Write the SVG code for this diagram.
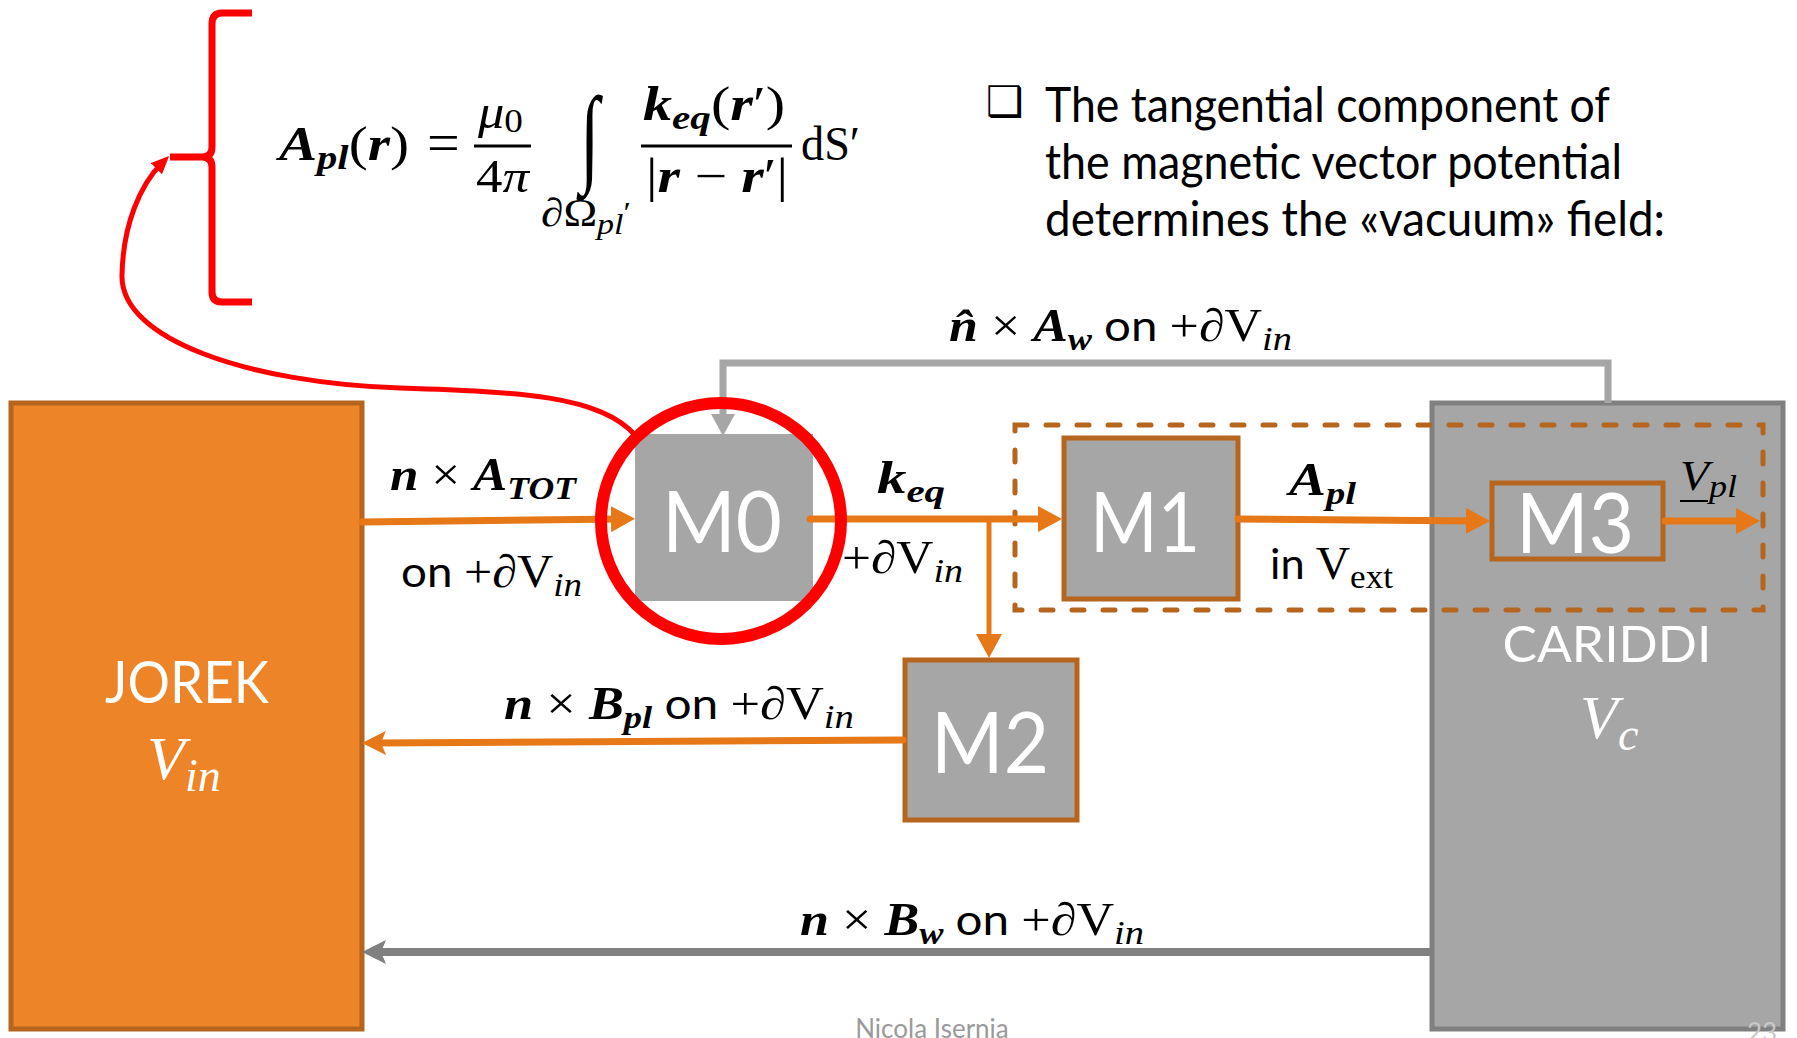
<svg xmlns="http://www.w3.org/2000/svg" width="1797" height="1038" viewBox="0 0 1797 1038">
<style>
.m{font-family:"Liberation Serif","DejaVu Serif",serif;fill:#000}
.bi{font-weight:bold;font-style:italic}
.it{font-style:italic}
.s{font-family:Lato,"Liberation Sans",sans-serif;fill:#000}
.box{font-family:Lato,"Liberation Sans",sans-serif;fill:#fff;text-anchor:middle}
.oline{stroke:#E67817;stroke-width:7;fill:none;stroke-linecap:round}
.gbox{fill:#A6A6A6}
.obox{fill:#A6A6A6;stroke:#B5651D;stroke-width:5}
</style>
<defs>
<marker id="ao" markerUnits="userSpaceOnUse" viewBox="0 0 24 26" markerWidth="24" markerHeight="26" refX="12" refY="13" orient="auto"><path d="M0,0 L24,13 L0,26 z" fill="#E67817"/></marker>
<marker id="ao2" markerUnits="userSpaceOnUse" viewBox="0 0 24 24" markerWidth="24" markerHeight="24" refX="12" refY="12" orient="auto"><path d="M0,0 L24,12 L0,24 L5,12 z" fill="#E67817"/></marker>
<marker id="ag" markerUnits="userSpaceOnUse" viewBox="0 0 24 24" markerWidth="24" markerHeight="24" refX="12" refY="12" orient="auto"><path d="M0,0 L24,12 L0,24 L5,12 z" fill="#808080"/></marker>
<marker id="agl" markerUnits="userSpaceOnUse" viewBox="0 0 22 24" markerWidth="22" markerHeight="24" refX="10" refY="12" orient="auto"><path d="M0,0 L22,12 L0,24 z" fill="#A6A6A6"/></marker>
<marker id="ar" markerUnits="userSpaceOnUse" viewBox="0 0 18 16" markerWidth="18" markerHeight="16" refX="8" refY="8" orient="auto"><path d="M0,0 L18,8 L0,16 z" fill="#FF0000"/></marker>
</defs>

<rect width="1797" height="1038" fill="#fff"/>

<!-- formula -->
<g id="formula">
<path d="M252,13 L222,13 Q212,13 212,24 L212,147 Q212,157 202,157 L170,157 M202,157 Q212,157 212,167 L212,292 Q212,302 222,302 L252,302" fill="none" stroke="#FF0000" stroke-width="7"/>
<text class="m" x="279" y="160" font-size="48" textLength="130" lengthAdjust="spacingAndGlyphs"><tspan class="bi">A</tspan><tspan class="bi" font-size="34" dy="9">pl</tspan><tspan dy="-9">(</tspan><tspan class="bi">r</tspan><tspan>)</tspan></text>
<text class="m" x="427" y="162" font-size="58">=</text>
<text class="m" x="478" y="128" font-size="48" textLength="45" lengthAdjust="spacingAndGlyphs"><tspan class="it">μ</tspan><tspan font-size="34" dy="4">0</tspan></text>
<rect x="474" y="144.5" width="57" height="3" fill="#000"/>
<text class="m" x="476" y="192" font-size="46" textLength="53" lengthAdjust="spacingAndGlyphs">4<tspan class="it">π</tspan></text>
<text class="m" transform="translate(580,172) scale(1,1.55)" x="0" y="0" font-size="70">∫</text>
<text class="m" x="541" y="226" font-size="40" textLength="90" lengthAdjust="spacingAndGlyphs"><tspan class="it">∂</tspan>Ω<tspan class="it" font-size="30" dy="8">pl</tspan><tspan font-size="30" dy="-12">′</tspan></text>
<rect x="641" y="144.5" width="151" height="3" fill="#000"/>
<text class="m" x="643" y="120" font-size="48" textLength="142" lengthAdjust="spacingAndGlyphs"><tspan class="bi">k</tspan><tspan class="bi" font-size="34" dy="9">eq</tspan><tspan dy="-9">(</tspan><tspan class="bi">r</tspan><tspan>′)</tspan></text>
<text class="m" x="646" y="192" font-size="48" textLength="142" lengthAdjust="spacingAndGlyphs">|<tspan class="bi">r</tspan> − <tspan class="bi">r</tspan>′|</text>
<text class="m" x="801" y="160" font-size="48" textLength="59" lengthAdjust="spacingAndGlyphs">dS′</text>
</g>

<g id="bullet-text">
<text x="986" y="116" font-family="DejaVu Sans,sans-serif" font-size="42" font-weight="bold" fill="#000">❑</text>
<text class="s" x="1045" y="122" font-size="48" textLength="565" lengthAdjust="spacingAndGlyphs">The tangential component of</text>
<text class="s" x="1045" y="179" font-size="48" textLength="577" lengthAdjust="spacingAndGlyphs">the magnetic vector potential</text>
<text class="s" x="1045" y="236" font-size="48" textLength="620" lengthAdjust="spacingAndGlyphs">determines the «vacuum» field:</text>
</g>

<!-- nodes -->
<g id="jorek">
<rect x="11" y="403" width="351" height="626" fill="#ED8427" stroke="#B5651D" stroke-width="5"/>
<text class="box" x="187" y="703" font-size="58" textLength="164" lengthAdjust="spacingAndGlyphs">JOREK</text>
<text class="m it" x="147" y="779" font-size="62" style="fill:#fff">V<tspan font-size="46" dy="12">in</tspan></text>
</g>

<g id="cariddi">
<rect x="1432" y="403" width="351" height="626" fill="#A6A6A6" stroke="#808080" stroke-width="5"/>
<text class="box" x="1607" y="662" font-size="51" textLength="209" lengthAdjust="spacingAndGlyphs">CARIDDI</text>
<text class="m it" x="1580" y="738" font-size="62" style="fill:#fff">V<tspan font-size="46" dy="12">c</tspan></text>
</g>

<g id="group-dashed">
<rect x="1015" y="425" width="748" height="185" fill="none" stroke="#B5651D" stroke-width="5" stroke-dasharray="12 19" stroke-linecap="round"/>
</g>

<g id="m0">
<rect x="635" y="434" width="178" height="167" class="gbox"/>
<text class="box" x="722" y="552" font-size="86" textLength="120" lengthAdjust="spacingAndGlyphs">M0</text>
</g>

<g id="m1">
<rect x="1064" y="438" width="174" height="161" class="obox"/>
<text class="box" x="1145" y="552" font-size="84" textLength="110" lengthAdjust="spacingAndGlyphs">M1</text>
</g>

<g id="m2">
<rect x="905" y="660" width="172" height="160" class="obox"/>
<text class="box" x="990" y="773" font-size="86" textLength="118" lengthAdjust="spacingAndGlyphs">M2</text>
</g>

<g id="m3">
<rect x="1492" y="483" width="171" height="76" class="obox"/>
<text class="box" x="1575" y="553" font-size="84" textLength="118" lengthAdjust="spacingAndGlyphs">M3</text>
</g>

<!-- connectors -->
<g id="connectors">
<path d="M1608,403 L1608,363 L723,363 L723,424" fill="none" stroke="#A6A6A6" stroke-width="7" marker-end="url(#agl)"/>
<path d="M362,522 L623,519" class="oline" marker-end="url(#ao)"/>
<path d="M810,519 L1050,519" class="oline" marker-end="url(#ao)"/>
<path d="M989,519 L989,646" class="oline" style="stroke-width:5" marker-end="url(#ao)"/>
<path d="M1238,519 L1478,521" class="oline" marker-end="url(#ao)"/>
<path d="M1665,521 L1748,521" class="oline" marker-end="url(#ao)"/>
<path d="M903,740 L374,743" class="oline" marker-end="url(#ao2)"/>
<path d="M1431,952 L374,952" fill="none" stroke="#808080" stroke-width="8" marker-end="url(#ag)"/>
<ellipse cx="721" cy="521" rx="120" ry="118" fill="none" stroke="#FF0000" stroke-width="12"/>
<path d="M636,436 C600,395 520,392 400,388 C250,383 120,340 122,275 C123,225 140,185 162,163" fill="none" stroke="#FF0000" stroke-width="5" marker-end="url(#ar)"/>
</g>

<!-- labels -->
<g id="labels">
<text x="949" y="341" textLength="343" lengthAdjust="spacingAndGlyphs"><tspan class="m bi" font-size="46">n&#x302;</tspan><tspan class="m" font-size="46"> × </tspan><tspan class="m bi" font-size="46">A</tspan><tspan class="m bi" font-size="32" dy="9">w</tspan><tspan class="s" font-size="42" dy="-9"> on </tspan><tspan class="m" font-size="46">+∂V</tspan><tspan class="m it" font-size="34" dy="9">in</tspan></text>
<text x="390" y="490" textLength="186" lengthAdjust="spacingAndGlyphs"><tspan class="m bi" font-size="46">n</tspan><tspan class="m" font-size="46"> × </tspan><tspan class="m bi" font-size="46">A</tspan><tspan class="m bi" font-size="32" dy="9">TOT</tspan></text>
<text x="401" y="587" textLength="181" lengthAdjust="spacingAndGlyphs"><tspan class="s" font-size="42">on </tspan><tspan class="m" font-size="46">+∂V</tspan><tspan class="m it" font-size="34" dy="9">in</tspan></text>
<text x="877" y="493" textLength="68" lengthAdjust="spacingAndGlyphs"><tspan class="m bi" font-size="46">k</tspan><tspan class="m bi" font-size="32" dy="9">eq</tspan></text>
<text x="842" y="573" textLength="121" lengthAdjust="spacingAndGlyphs"><tspan class="m" font-size="46">+∂V</tspan><tspan class="m it" font-size="34" dy="9">in</tspan></text>
<text x="1289" y="495" textLength="67" lengthAdjust="spacingAndGlyphs"><tspan class="m bi" font-size="46">A</tspan><tspan class="m bi" font-size="32" dy="9">pl</tspan></text>
<text x="1270" y="579" textLength="123" lengthAdjust="spacingAndGlyphs"><tspan class="s" font-size="42">in </tspan><tspan class="m" font-size="46">V</tspan><tspan class="m" font-size="34" dy="9">ext</tspan></text>
<text x="1680" y="490" textLength="57" lengthAdjust="spacingAndGlyphs"><tspan class="m it" font-size="42">V</tspan><tspan class="m it" font-size="32" dy="7">pl</tspan></text>
<line x1="1680" y1="501" x2="1708" y2="501" stroke="#000" stroke-width="2"/>
<text x="504" y="719" textLength="350" lengthAdjust="spacingAndGlyphs"><tspan class="m bi" font-size="46">n</tspan><tspan class="m" font-size="46"> × </tspan><tspan class="m bi" font-size="46">B</tspan><tspan class="m bi" font-size="32" dy="9">pl</tspan><tspan class="s" font-size="42" dy="-9"> on </tspan><tspan class="m" font-size="46">+∂V</tspan><tspan class="m it" font-size="34" dy="9">in</tspan></text>
<text x="800" y="935" textLength="344" lengthAdjust="spacingAndGlyphs"><tspan class="m bi" font-size="46">n</tspan><tspan class="m" font-size="46"> × </tspan><tspan class="m bi" font-size="46">B</tspan><tspan class="m bi" font-size="32" dy="9">w</tspan><tspan class="s" font-size="42" dy="-9"> on </tspan><tspan class="m" font-size="46">+∂V</tspan><tspan class="m it" font-size="34" dy="9">in</tspan></text>
</g>

<g id="footer">
<text x="932" y="1038" font-family="Lato,'Liberation Sans',sans-serif" font-size="26" fill="#9A9A9A" text-anchor="middle">Nicola Isernia</text>
<text x="1762" y="1042" font-family="Lato,'Liberation Sans',sans-serif" font-size="26" fill="#C8C8C8" text-anchor="middle">23</text>
</g>
</svg>
